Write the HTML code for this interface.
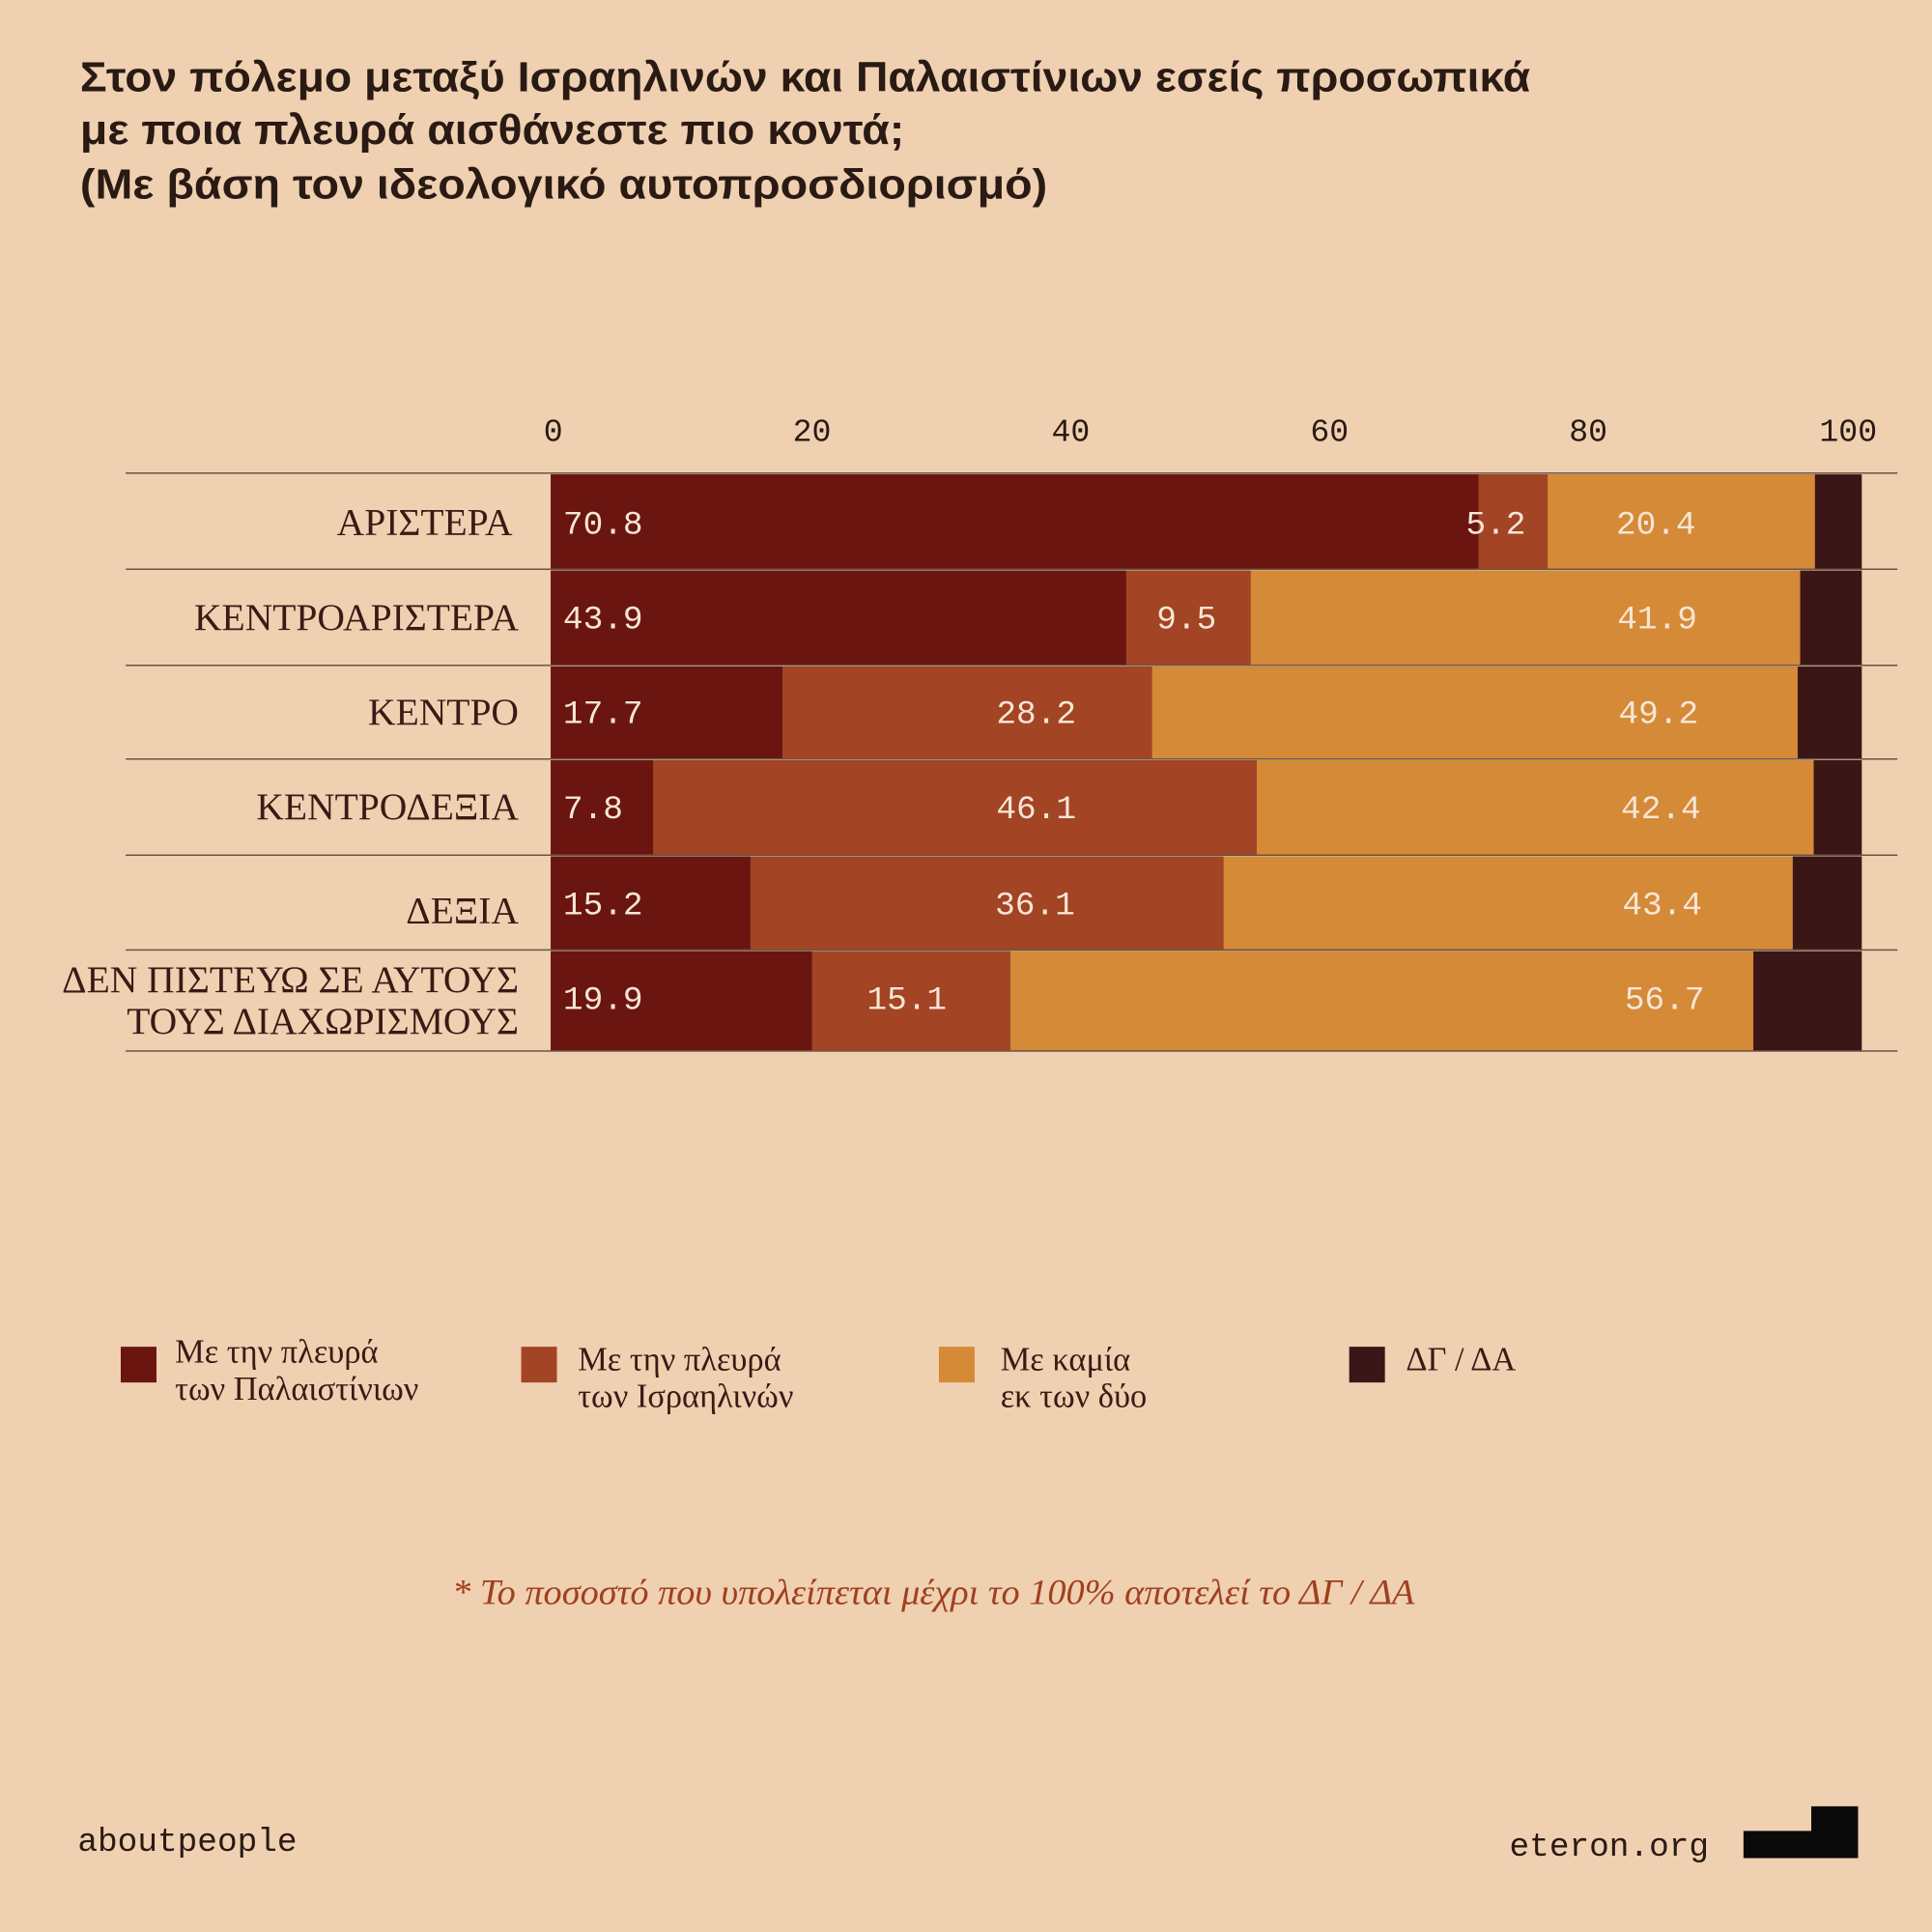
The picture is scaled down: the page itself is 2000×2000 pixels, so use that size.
<!DOCTYPE html>
<html><head><meta charset="utf-8"><style>
html,body{margin:0;padding:0;background:#efd0b1;}
svg{display:block}
.t{font-family:"Liberation Sans",sans-serif;font-weight:bold;font-size:34px;fill:#2a1a14}
.ax{font-family:"Liberation Mono",monospace;font-size:26px;fill:#2a1a14}
.lb{font-family:"Liberation Serif",serif;font-size:31px;fill:#3a1a14}
.v{font-family:"Liberation Mono",monospace;font-size:27px;fill:#f6e6d6}
.lg{font-family:"Liberation Serif",serif;font-size:27px;fill:#3a1a14}
</style></head><body>
<svg width="2000" height="2000" viewBox="0 0 1568 1568" xmlns="http://www.w3.org/2000/svg">
<rect width="1568" height="1568" fill="#efd0b1"/>
<text class="t" x="65" y="74" textLength="1177" lengthAdjust="spacingAndGlyphs">Στον πόλεμο μεταξύ Ισραηλινών και Παλαιστίνιων εσείς προσωπικά</text>
<text class="t" x="65" y="117" textLength="669" lengthAdjust="spacingAndGlyphs">με ποια πλευρά αισθάνεστε πιο κοντά;</text>
<text class="t" x="65" y="161" textLength="785" lengthAdjust="spacingAndGlyphs">(Με βάση τον ιδεολογικό αυτοπροσδιορισμό)</text>
<g class="ax" text-anchor="middle">
<text x="449" y="358">0</text><text x="659" y="358">20</text><text x="869" y="358">40</text>
<text x="1079" y="358">60</text><text x="1289" y="358">80</text><text x="1500" y="358">100</text>
</g>
<g id="bars">
<rect x="447" y="385" width="1064" height="77" fill="#3a1616"/>
<rect x="447" y="385" width="753" height="77" fill="#6b1510"/>
<rect x="1200" y="385" width="56" height="77" fill="#a34424"/>
<rect x="1256" y="385" width="217" height="77" fill="#d58a38"/>
<rect x="447" y="463" width="1064" height="77" fill="#3a1616"/>
<rect x="447" y="463" width="467" height="77" fill="#6b1510"/>
<rect x="914" y="463" width="101" height="77" fill="#a34424"/>
<rect x="1015" y="463" width="446" height="77" fill="#d58a38"/>
<rect x="447" y="541" width="1064" height="75" fill="#3a1616"/>
<rect x="447" y="541" width="188" height="75" fill="#6b1510"/>
<rect x="635" y="541" width="300" height="75" fill="#a34424"/>
<rect x="935" y="541" width="524" height="75" fill="#d58a38"/>
<rect x="447" y="617" width="1064" height="77" fill="#3a1616"/>
<rect x="447" y="617" width="83" height="77" fill="#6b1510"/>
<rect x="530" y="617" width="490" height="77" fill="#a34424"/>
<rect x="1020" y="617" width="452" height="77" fill="#d58a38"/>
<rect x="447" y="695" width="1064" height="76" fill="#3a1616"/>
<rect x="447" y="695" width="162" height="76" fill="#6b1510"/>
<rect x="609" y="695" width="384" height="76" fill="#a34424"/>
<rect x="993" y="695" width="462" height="76" fill="#d58a38"/>
<rect x="447" y="772" width="1064" height="81" fill="#3a1616"/>
<rect x="447" y="772" width="212" height="81" fill="#6b1510"/>
<rect x="659" y="772" width="161" height="81" fill="#a34424"/>
<rect x="820" y="772" width="603" height="81" fill="#d58a38"/>
</g>
<g stroke="#6a5448" stroke-width="1.2">
<line x1="102" y1="384" x2="1540" y2="384"/><line x1="102" y1="462" x2="1540" y2="462"/>
<line x1="102" y1="540" x2="1540" y2="540"/><line x1="102" y1="616" x2="1540" y2="616"/>
<line x1="102" y1="694" x2="1540" y2="694"/><line x1="102" y1="771" x2="1540" y2="771"/>
<line x1="102" y1="853" x2="1540" y2="853"/>
</g>
<g class="lb" text-anchor="end">
<text x="416" y="434">ΑΡΙΣΤΕΡΑ</text><text x="421" y="511">ΚΕΝΤΡΟΑΡΙΣΤΕΡΑ</text>
<text x="421" y="588">ΚΕΝΤΡΟ</text><text x="421" y="665">ΚΕΝΤΡΟΔΕΞΙΑ</text>
<text x="421" y="749">ΔΕΞΙΑ</text><text x="421" y="805">ΔΕΝ ΠΙΣΤΕΥΩ ΣΕ ΑΥΤΟΥΣ</text>
<text x="421" y="839">ΤΟΥΣ ΔΙΑΧΩΡΙΣΜΟΥΣ</text>
</g>
<g class="v">
<text x="457" y="433">70.8</text><text x="457" y="510">43.9</text><text x="457" y="587">17.7</text>
<text x="457" y="664">7.8</text><text x="457" y="742">15.2</text><text x="457" y="819">19.9</text>
</g>
<g class="v" text-anchor="middle">
<text x="1214" y="433">5.2</text><text x="963" y="510">9.5</text><text x="841" y="587">28.2</text>
<text x="841" y="664">46.1</text><text x="840" y="742">36.1</text><text x="736" y="819">15.1</text>
<text x="1344" y="433">20.4</text><text x="1345" y="510">41.9</text><text x="1346" y="587">49.2</text>
<text x="1348" y="664">42.4</text><text x="1349" y="742">43.4</text><text x="1351" y="819">56.7</text>
</g>
<rect x="98" y="1093" width="29" height="29" fill="#6b1510"/>
<text class="lg" x="142" y="1106">Με την πλευρά</text><text class="lg" x="142" y="1136">των Παλαιστίνιων</text>
<rect x="423" y="1093" width="29" height="29" fill="#a34424"/>
<text class="lg" x="469" y="1112">Με την πλευρά</text><text class="lg" x="469" y="1142">των Ισραηλινών</text>
<rect x="762" y="1093" width="29" height="29" fill="#d58a38"/>
<text class="lg" x="812" y="1112">Με καμία</text><text class="lg" x="812" y="1142">εκ των δύο</text>
<rect x="1095" y="1093" width="29" height="29" fill="#3a1616"/>
<text class="lg" x="1141" y="1112">ΔΓ / ΔΑ</text>
<text x="367" y="1302" textLength="781" lengthAdjust="spacingAndGlyphs" font-family="Liberation Serif,serif" font-style="italic" font-size="29" fill="#a0401f">*  Το ποσοστό που υπολείπεται μέχρι το 100% αποτελεί το ΔΓ / ΔΑ</text>
<text x="63" y="1502" font-family="Liberation Mono,monospace" font-size="27" fill="#2a1a14">aboutpeople</text>
<text x="1225" y="1506" font-family="Liberation Mono,monospace" font-size="27" fill="#2a1a14">eteron.org</text>
<path d="M1415 1486 H1470 V1466 H1508 V1508 H1415 Z" fill="#0a0a0a"/>
</svg>
</body></html>
